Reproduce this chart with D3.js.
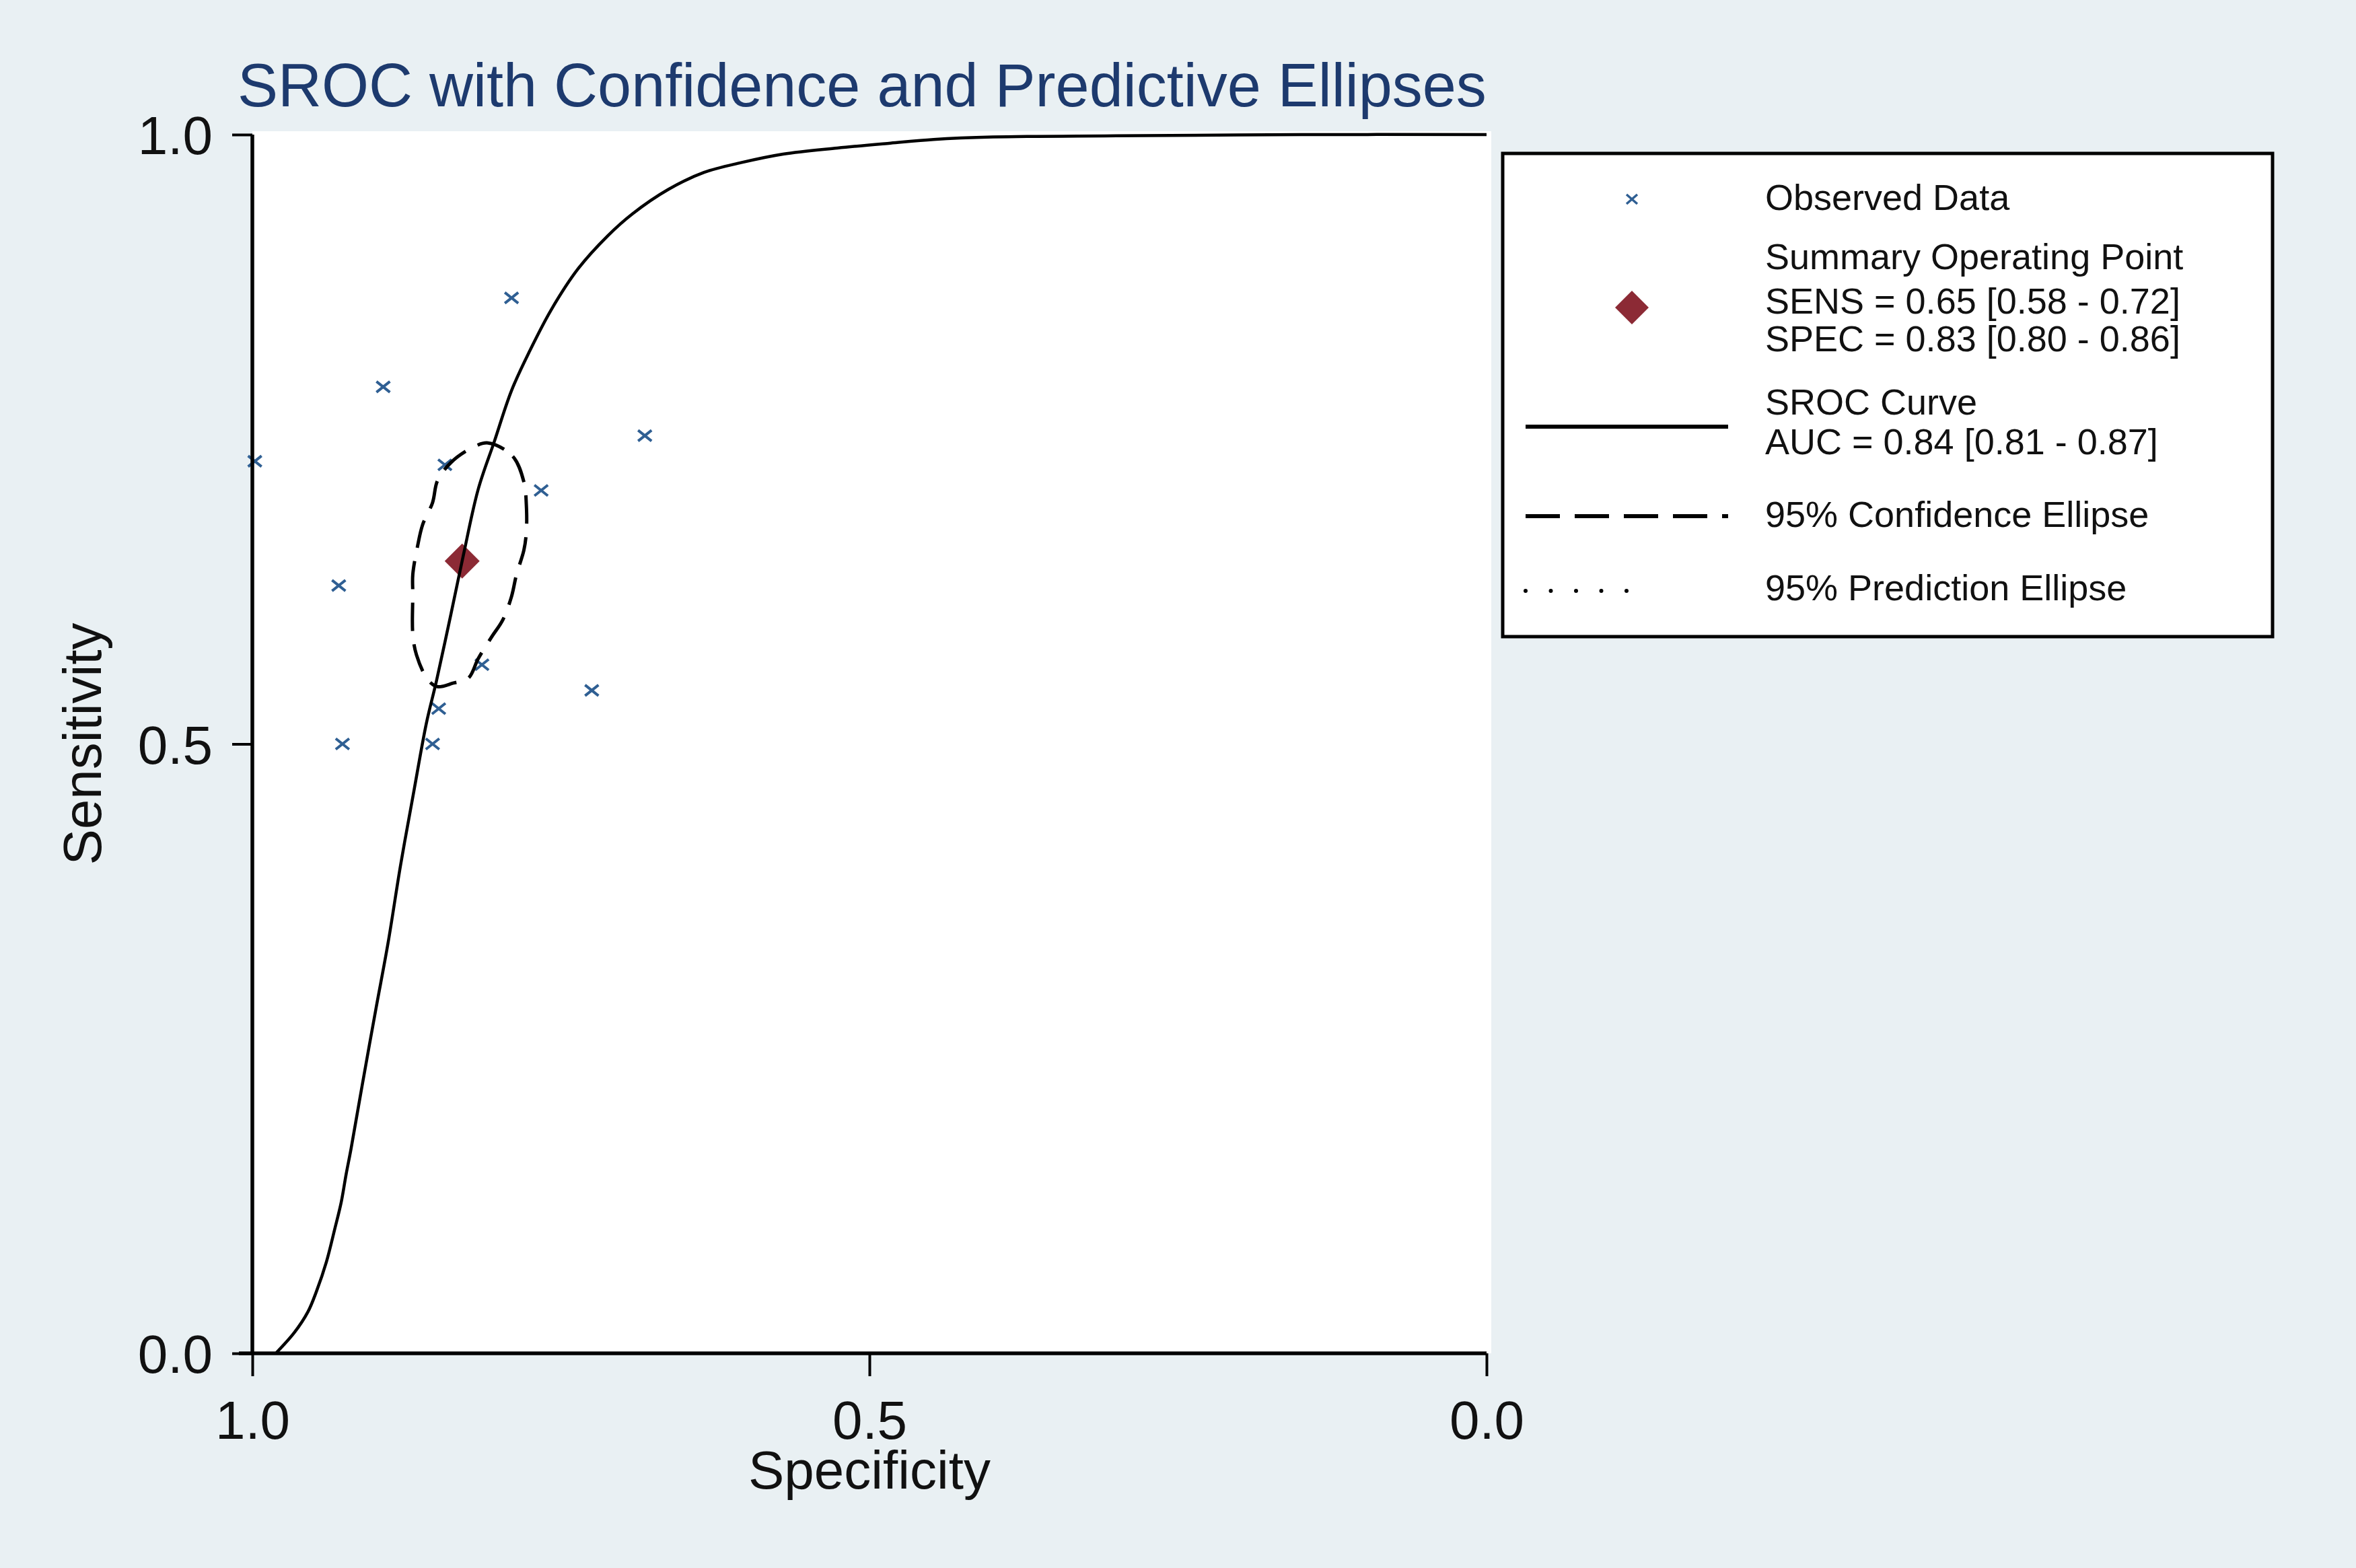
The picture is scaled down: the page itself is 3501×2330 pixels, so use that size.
<!DOCTYPE html>
<html><head><meta charset="utf-8">
<script src="https://cdn.jsdelivr.net/npm/d3@7"></script>
<style>html,body{margin:0;padding:0;background:#e9f0f3;} svg{display:block;}</style>
</head><body>
<svg id="chart" width="3501" height="2330"></svg>
<script>
// ---------------- DATA ----------------
const titleText = "SROC with Confidence and Predictive Ellipses";
const xLabel = "Specificity";
const yLabel = "Sensitivity";
const tickValues = [0, 0.5, 1];

// observed studies (specificity, sensitivity)
const observedSpec = [0.790, 0.894, 0.682, 0.998, 0.844, 0.766, 0.930, 0.814, 0.725, 0.849, 0.927, 0.854];
const observedSens = [0.866, 0.793, 0.753, 0.732, 0.729, 0.708, 0.630, 0.565, 0.544, 0.529, 0.500, 0.500];

// summary operating point
const summarySpec = [0.83];
const summarySens = [0.65];

// SROC curve
const srocSpec = [0.981, 0.966, 0.955, 0.948, 0.940, 0.933, 0.928, 0.924, 0.920, 0.911, 0.900, 0.890, 0.880, 0.869, 0.859, 0.851, 0.839, 0.829, 0.817, 0.804, 0.790, 0.775, 0.758, 0.736, 0.712, 0.692, 0.663, 0.634, 0.604, 0.570, 0.526, 0.483, 0.448, 0.400, 0.300, 0.150, 0.000];
const srocSens = [0.000, 0.017, 0.034, 0.051, 0.075, 0.103, 0.124, 0.147, 0.168, 0.220, 0.282, 0.337, 0.400, 0.462, 0.517, 0.551, 0.607, 0.655, 0.709, 0.748, 0.790, 0.823, 0.856, 0.890, 0.917, 0.935, 0.955, 0.969, 0.977, 0.984, 0.989, 0.993, 0.996, 0.998, 0.999, 1.000, 1.000];

// 95% confidence ellipse outline
const ellipseSpec = [0.809, 0.789, 0.780, 0.778, 0.778, 0.780, 0.786, 0.790, 0.797, 0.806, 0.817, 0.825, 0.837, 0.850, 0.858, 0.867, 0.870, 0.870, 0.870, 0.866, 0.862, 0.854, 0.850, 0.839, 0.822];
const ellipseSens = [0.747, 0.736, 0.715, 0.696, 0.674, 0.659, 0.639, 0.621, 0.602, 0.588, 0.570, 0.554, 0.550, 0.547, 0.553, 0.573, 0.590, 0.623, 0.639, 0.663, 0.680, 0.698, 0.716, 0.731, 0.743];

// legend texts
const legendObserved = ["Observed Data"];
const legendSummary = ["Summary Operating Point", "SENS = 0.65 [0.58 - 0.72]", "SPEC = 0.83 [0.80 - 0.86]"];
const legendCurve = ["SROC Curve", "AUC = 0.84 [0.81 - 0.87]"];
const legendConf = ["95% Confidence Ellipse"];
const legendPred = ["95% Prediction Ellipse"];

// ---------------- DRAWING ----------------
const FONT = "'Liberation Sans', Arial, Helvetica, sans-serif";
const svg = d3.select("#chart");
const W = 3501, H = 2330;
svg.append("rect").attr("width", W).attr("height", H).attr("fill", "#e9f0f3");

const x = d3.scaleLinear().domain([1, 0]).range([375, 2209]);
const y = d3.scaleLinear().domain([0, 1]).range([2011, 200]);

// plot region
svg.append("rect")
  .attr("x", x(1)).attr("y", y(1) - 5)
  .attr("width", x(0) - x(1) + 7).attr("height", y(0) - y(1) + 5)
  .attr("fill", "#ffffff");

const g = svg.append("g");

// observed markers
const obs = observedSpec.map((s, i) => ({ spec: s, sens: observedSens[i] }));
const xMark = (cx, cy, hw, hh) => `M${cx - hw},${cy - hh}L${cx + hw},${cy + hh}M${cx - hw},${cy + hh}L${cx + hw},${cy - hh}`;
g.selectAll("path.obs").data(obs).join("path")
  .attr("class", "obs")
  .attr("d", d => xMark(x(d.spec), y(d.sens), 10, 8))
  .attr("stroke", "#2f5f93").attr("stroke-width", 4).attr("fill", "none");

// summary diamond
const summary = summarySpec.map((s, i) => ({ spec: s, sens: summarySens[i] }));
const diamond = (cx, cy, r) => `M${cx},${cy - r}L${cx + r},${cy}L${cx},${cy + r}L${cx - r},${cy}Z`;
g.selectAll("path.sum").data(summary).join("path")
  .attr("class", "sum")
  .attr("d", d => diamond(x(d.spec), y(d.sens), 26))
  .attr("fill", "#8c2a35");

// SROC curve
const curvePts = srocSpec.map((s, i) => [x(s), y(srocSens[i])]);
g.append("path")
  .attr("d", d3.line().curve(d3.curveCatmullRom.alpha(0.5))(curvePts))
  .attr("fill", "none").attr("stroke", "#000").attr("stroke-width", 4.5);

// confidence ellipse
const ellPts = ellipseSpec.map((s, i) => [x(s), y(ellipseSens[i])]);
g.append("path")
  .attr("d", d3.line().curve(d3.curveCatmullRomClosed)(ellPts))
  .attr("fill", "none").attr("stroke", "#000").attr("stroke-width", 5)
  .attr("stroke-dasharray", "42,20");

// axes
const fmt = d3.format(".1f");
const yAxis = d3.axisLeft(y).tickValues(tickValues).tickFormat(fmt).tickSize(30).tickSizeOuter(0).tickPadding(29);
const xAxis = d3.axisBottom(x).tickValues(tickValues).tickFormat(fmt).tickSize(34).tickSizeOuter(0).tickPadding(36);

const gy = svg.append("g").attr("transform", `translate(${x(1)},0)`).call(yAxis);
const gx = svg.append("g").attr("transform", `translate(0,${y(0)})`).call(xAxis);
[gx, gy].forEach(a => {
  a.select(".domain").attr("stroke", "#000").attr("stroke-width", 5.5);
  a.selectAll(".tick line").attr("stroke", "#000").attr("stroke-width", 4);
  a.selectAll(".tick text").attr("font-family", FONT).attr("font-size", 80).attr("fill", "#111");
});
gy.select(".domain").attr("d", `M0,${y(1)}V${y(0) + 2}`);
gx.select(".domain").attr("d", `M${x(1) - 20},0H${x(0)}`);
gy.selectAll(".tick text").attr("dy", "0.36em");

// axis titles
svg.append("text").text(xLabel)
  .attr("x", x(0.5)).attr("y", 2212)
  .attr("text-anchor", "middle").attr("font-family", FONT).attr("font-size", 80).attr("fill", "#111");
svg.append("text").text(yLabel)
  .attr("transform", `translate(150,${y(0.5)}) rotate(-90)`)
  .attr("text-anchor", "middle").attr("font-family", FONT).attr("font-size", 80).attr("fill", "#111");

// title
svg.append("text").text(titleText)
  .attr("x", 353).attr("y", 158)
  .attr("font-family", FONT).attr("font-size", 90).attr("fill", "#1d3a6e");

// legend
const L = svg.append("g");
L.append("rect").attr("x", 2233).attr("y", 228).attr("width", 1144).attr("height", 718)
  .attr("fill", "#fff").attr("stroke", "#000").attr("stroke-width", 5);

const lx = 2623, mx = 2425, fs = 54;
function texts(lines, baselines) {
  lines.forEach((t, i) => {
    L.append("text").text(t).attr("x", lx).attr("y", baselines[i])
      .attr("font-family", FONT).attr("font-size", fs).attr("fill", "#111");
  });
}
texts(legendObserved, [312]);
texts(legendSummary, [400, 466, 522]);
texts(legendCurve, [616, 675]);
texts(legendConf, [783]);
texts(legendPred, [892]);

L.append("path").attr("d", xMark(mx, 296, 8, 7)).attr("stroke", "#2f5f93").attr("stroke-width", 3.5).attr("fill", "none");
L.append("path").attr("d", diamond(mx, 457, 25)).attr("fill", "#8c2a35");
L.append("line").attr("x1", 2267).attr("x2", 2568).attr("y1", 634).attr("y2", 634)
  .attr("stroke", "#000").attr("stroke-width", 6);
L.append("line").attr("x1", 2267).attr("x2", 2568).attr("y1", 767).attr("y2", 767)
  .attr("stroke", "#000").attr("stroke-width", 6).attr("stroke-dasharray", "51,22");
L.append("line").attr("x1", 2267).attr("x2", 2420).attr("y1", 878).attr("y2", 878)
  .attr("stroke", "#000").attr("stroke-width", 6).attr("stroke-linecap", "round")
  .attr("stroke-dasharray", "0,37.5");
</script>
</body></html>
